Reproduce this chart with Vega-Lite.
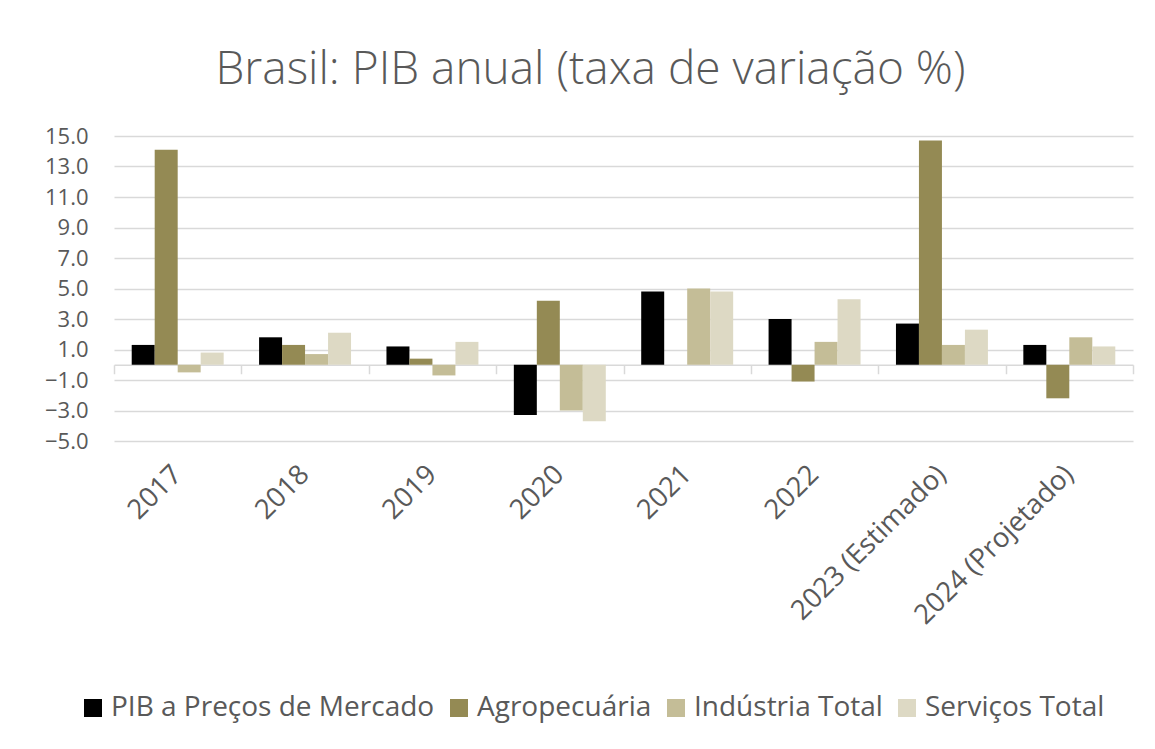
{
  "$schema": "https://vega.github.io/schema/vega-lite/v6.json",
  "width": 1019,
  "height": 305,
  "autosize": {"type": "none"},
  "padding": {"left": 114, "top": 136, "right": 22, "bottom": 308},
  "background": "white",
  "config": {"font": "Open Sans", "view": {"stroke": null}},
  "title": {
    "text": "Brasil: PIB anual (taxa de variação %)",
    "fontSize": 46,
    "font": "Open Sans",
    "fontWeight": 300,
    "color": "#595959",
    "anchor": "middle",
    "frame": "group",
    "dx": -33,
    "offset": 31
  },
  "data": {
    "values": [
      {"ano": "2017", "serie": "PIB a Preços de Mercado", "valor": 1.3},
      {"ano": "2017", "serie": "Agropecuária", "valor": 14.1},
      {"ano": "2017", "serie": "Indústria Total", "valor": -0.5},
      {"ano": "2017", "serie": "Serviços Total", "valor": 0.8},
      {"ano": "2018", "serie": "PIB a Preços de Mercado", "valor": 1.8},
      {"ano": "2018", "serie": "Agropecuária", "valor": 1.3},
      {"ano": "2018", "serie": "Indústria Total", "valor": 0.7},
      {"ano": "2018", "serie": "Serviços Total", "valor": 2.1},
      {"ano": "2019", "serie": "PIB a Preços de Mercado", "valor": 1.2},
      {"ano": "2019", "serie": "Agropecuária", "valor": 0.4},
      {"ano": "2019", "serie": "Indústria Total", "valor": -0.7},
      {"ano": "2019", "serie": "Serviços Total", "valor": 1.5},
      {"ano": "2020", "serie": "PIB a Preços de Mercado", "valor": -3.3},
      {"ano": "2020", "serie": "Agropecuária", "valor": 4.2},
      {"ano": "2020", "serie": "Indústria Total", "valor": -3.0},
      {"ano": "2020", "serie": "Serviços Total", "valor": -3.7},
      {"ano": "2021", "serie": "PIB a Preços de Mercado", "valor": 4.8},
      {"ano": "2021", "serie": "Agropecuária", "valor": 0.0},
      {"ano": "2021", "serie": "Indústria Total", "valor": 5.0},
      {"ano": "2021", "serie": "Serviços Total", "valor": 4.8},
      {"ano": "2022", "serie": "PIB a Preços de Mercado", "valor": 3.0},
      {"ano": "2022", "serie": "Agropecuária", "valor": -1.1},
      {"ano": "2022", "serie": "Indústria Total", "valor": 1.5},
      {"ano": "2022", "serie": "Serviços Total", "valor": 4.3},
      {"ano": "2023 (Estimado)", "serie": "PIB a Preços de Mercado", "valor": 2.7},
      {"ano": "2023 (Estimado)", "serie": "Agropecuária", "valor": 14.7},
      {"ano": "2023 (Estimado)", "serie": "Indústria Total", "valor": 1.3},
      {"ano": "2023 (Estimado)", "serie": "Serviços Total", "valor": 2.3},
      {"ano": "2024 (Projetado)", "serie": "PIB a Preços de Mercado", "valor": 1.3},
      {"ano": "2024 (Projetado)", "serie": "Agropecuária", "valor": -2.2},
      {"ano": "2024 (Projetado)", "serie": "Indústria Total", "valor": 1.8},
      {"ano": "2024 (Projetado)", "serie": "Serviços Total", "valor": 1.2}
    ]
  },
  "layer": [
    {
      "mark": {"type": "bar"},
      "encoding": {
        "x": {
          "field": "ano",
          "type": "nominal",
          "sort": null,
          "scale": {"paddingInner": 0, "paddingOuter": 0},
          "axis": {
            "orient": "bottom",
            "title": null,
            "labelAngle": -45,
            "labelAlign": "right",
            "labelBaseline": "middle",
            "labelFontSize": 27.5,
            "labelColor": "#595959",
            "domain": false,
            "ticks": false,
            "grid": false,
            "labelPadding": 29,
            "labelLimit": 0
          }
        },
        "xOffset": {
          "field": "serie",
          "type": "nominal",
          "sort": ["PIB a Preços de Mercado", "Agropecuária", "Indústria Total", "Serviços Total"],
          "scale": {"paddingInner": 0, "paddingOuter": 0.77}
        },
        "y": {
          "field": "valor",
          "type": "quantitative",
          "scale": {"domain": [-5, 15], "nice": false},
          "axis": {
            "title": null,
            "values": [-5, -3, -1, 1, 3, 5, 7, 9, 11, 13, 15],
            "tickCount": 11,
            "format": ".1f",
            "grid": true,
            "gridColor": "#D9D9D9",
            "gridWidth": 1.5,
            "ticks": false,
            "domain": false,
            "labelOverlap": false,
            "labelFontSize": 22,
            "labelColor": "#595959",
            "labelPadding": 26
          }
        },
        "color": {
          "field": "serie",
          "type": "nominal",
          "sort": ["PIB a Preços de Mercado", "Agropecuária", "Indústria Total", "Serviços Total"],
          "scale": {
            "domain": ["PIB a Preços de Mercado", "Agropecuária", "Indústria Total", "Serviços Total"],
            "range": ["#000000", "#948A54", "#C4BD97", "#DDD9C4"]
          },
          "legend": {
            "title": null,
            "orient": "none",
            "direction": "horizontal",
            "legendX": -35,
            "legendY": 558,
            "symbolType": "square",
            "symbolSize": 324,
            "symbolStrokeWidth": 0,
            "symbolOpacity": 1,
            "labelFontSize": 28,
            "labelColor": "#595959",
            "labelOffset": 4,
            "columnPadding": 10,
            "labelLimit": 0
          }
        }
      }
    },
    {
      "mark": {"type": "point", "opacity": 0},
      "encoding": {
        "x": {
          "field": "ano",
          "type": "nominal",
          "sort": null,
          "axis": {
            "orient": "bottom",
            "title": null,
            "labels": false,
            "grid": false,
            "domain": true,
            "domainColor": "#D9D9D9",
            "domainWidth": 1.5,
            "ticks": true,
            "tickColor": "#D9D9D9",
            "tickWidth": 1.5,
            "tickSize": 9,
            "tickBand": "extent",
            "offset": -76.25
          }
        },
        "y": {"datum": 0}
      }
    }
  ],
  "resolve": {"axis": {"x": "independent"}}
}
